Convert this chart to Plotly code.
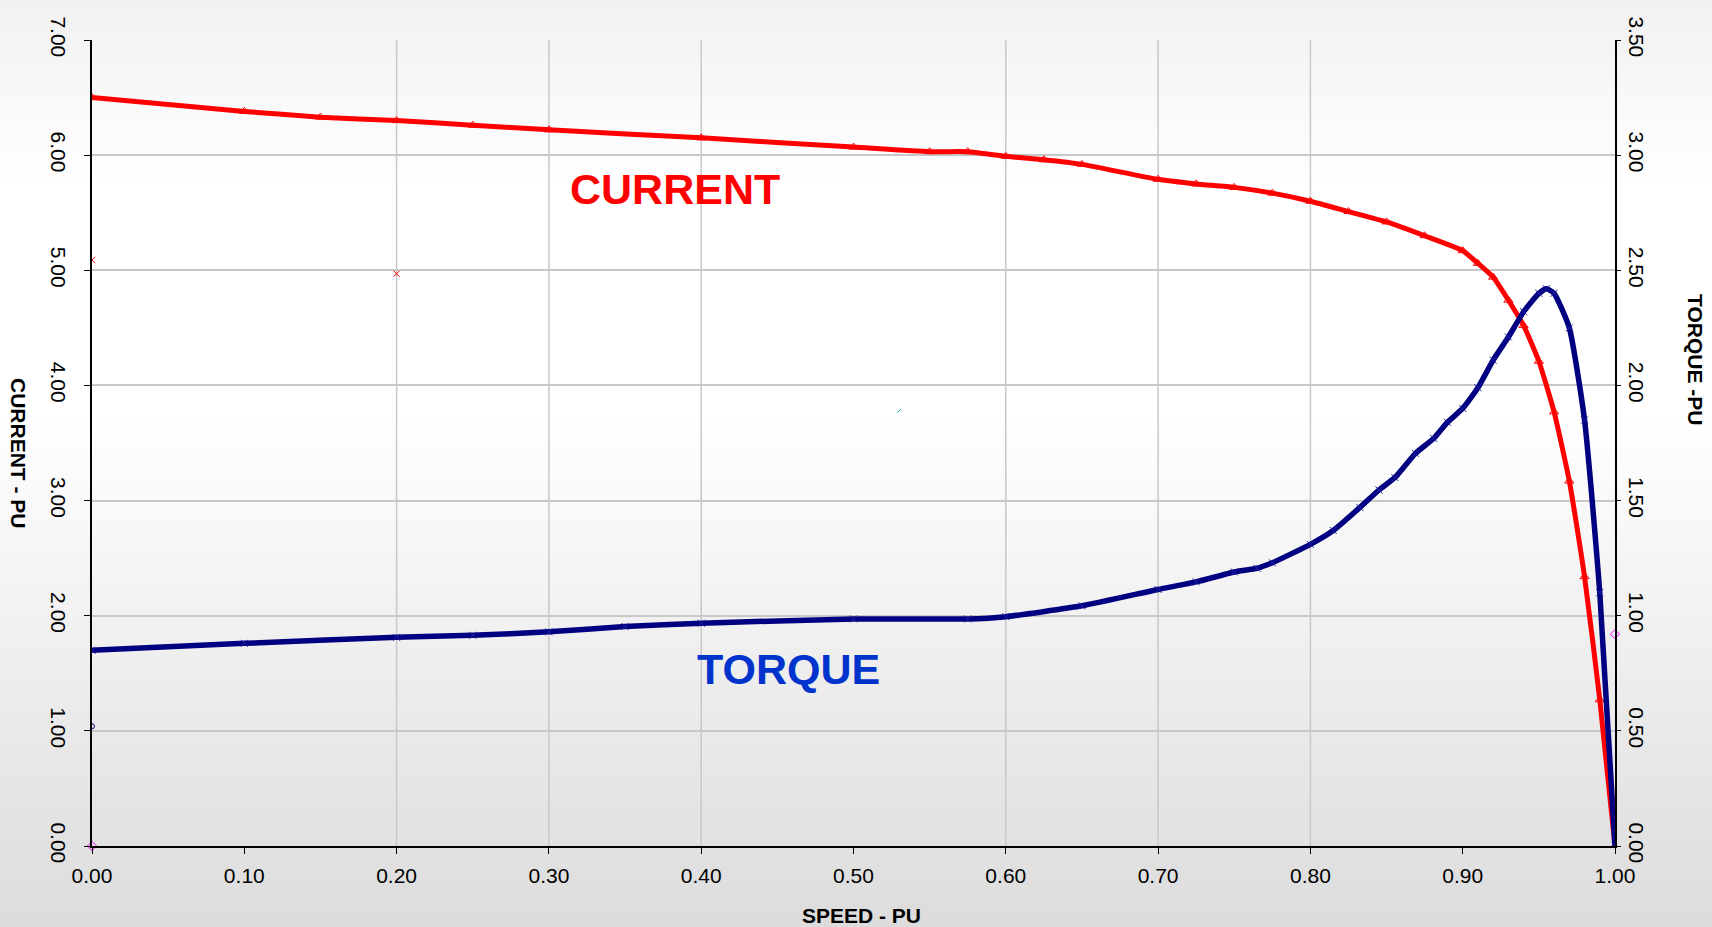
import base64
import plotly.graph_objects as go

# ---------------- data ----------------
speed_current = [0.00, 0.10, 0.15, 0.20, 0.25, 0.30, 0.40, 0.50, 0.55, 0.575, 0.60, 0.625, 0.65,
                 0.70, 0.725, 0.75, 0.775, 0.80, 0.825, 0.85, 0.875, 0.90, 0.91, 0.92, 0.93,
                 0.94, 0.95, 0.96, 0.97, 0.98, 0.99, 1.00]
current_pu = [6.50, 6.38, 6.33, 6.30, 6.26, 6.22, 6.15, 6.07, 6.03, 6.03, 5.99, 5.96, 5.92,
              5.79, 5.75, 5.72, 5.67, 5.60, 5.51, 5.42, 5.30, 5.17, 5.06, 4.94, 4.74,
              4.52, 4.21, 3.77, 3.17, 2.34, 1.27, 0.00]

speed_torque = [0.00, 0.10, 0.20, 0.25, 0.30, 0.35, 0.40, 0.50, 0.575, 0.60, 0.65, 0.70, 0.725,
                0.75, 0.765, 0.775, 0.80, 0.815, 0.8325, 0.845, 0.8555, 0.869, 0.881, 0.89,
                0.90, 0.91, 0.92, 0.93, 0.94, 0.95, 0.955, 0.96, 0.97, 0.98, 0.99, 1.00]
torque_pu = [0.85, 0.88, 0.906, 0.915, 0.93, 0.953, 0.967, 0.986, 0.986, 0.996, 1.043, 1.114, 1.147,
             1.19, 1.206, 1.23, 1.31, 1.37, 1.47, 1.546, 1.60, 1.705, 1.77, 1.84,
             1.90, 1.99, 2.11, 2.21, 2.32, 2.40, 2.42, 2.40, 2.25, 1.85, 1.10, 0.00]

# stray single points present in the source chart
stray_left_x = [0.00, 0.20]
stray_left_y = [5.09, 4.97]
stray_teal_x = [0.53]
stray_teal_y = [3.78]
stray_circle_x = [0.00]
stray_circle_y = [1.04]
stray_diamond_left_x = [0.00]
stray_diamond_left_y = [0.00]
stray_diamond_right_x = [1.00]
stray_diamond_right_y = [0.92]

x_ticks = [i / 10 for i in range(11)]
y1_ticks = [float(i) for i in range(8)]
y2_ticks = [i * 0.5 for i in range(8)]
x_grid = [0.2, 0.3, 0.4, 0.6, 0.7, 0.8]

# ---------------- layout constants ----------------
W, H = 1712, 927
ML, MR, MT, MB = 92, 97, 40, 81
PW, PH = W - ML - MR, H - MT - MB
FONT = "Liberation Sans, Arial, sans-serif"

def px_x(px):
    return (px - ML) / PW

def px_y(py):
    return 1 - (py - MT) / PH

svg = (
    "<svg xmlns='http://www.w3.org/2000/svg' width='1712' height='927' preserveAspectRatio='none'>"
    "<defs><linearGradient id='g' x1='0' y1='0' x2='0' y2='1'>"
    "<stop offset='0' stop-color='#f1f1f1'/>"
    "<stop offset='0.2' stop-color='#ffffff'/>"
    "<stop offset='0.45' stop-color='#ffffff'/>"
    "<stop offset='1' stop-color='#dcdcdc'/>"
    "</linearGradient></defs>"
    "<rect x='0' y='0' width='1712' height='927' fill='url(#g)'/></svg>"
)
svg_uri = "data:image/svg+xml;base64," + base64.b64encode(svg.encode()).decode()

fig = go.Figure()

fig.add_trace(go.Scatter(
    x=speed_current, y=current_pu, mode="lines+markers", name="CURRENT",
    line=dict(color="#ff0000", width=5, shape="spline", smoothing=0.5),
    marker=dict(symbol="triangle-up-open", size=8, color="#ff0000", line=dict(width=1)),
    yaxis="y", showlegend=False,
))
fig.add_trace(go.Scatter(
    x=speed_torque, y=torque_pu, mode="lines+markers", name="TORQUE",
    line=dict(color="#000080", width=5.5, shape="spline", smoothing=0.5),
    marker=dict(symbol="x-thin-open", size=7, color="#2020a0", line=dict(width=1, color="#2020a0")),
    yaxis="y2", showlegend=False,
))

# stray points
fig.add_trace(go.Scatter(x=stray_left_x, y=stray_left_y, mode="markers", yaxis="y", showlegend=False,
                         marker=dict(symbol="x-thin-open", size=6, color="#ff0000", line=dict(width=1, color="#ff0000"))))
fig.add_trace(go.Scatter(x=stray_teal_x, y=stray_teal_y, mode="markers", yaxis="y", showlegend=False,
                         marker=dict(symbol="line-ne-open", size=4, color="#20a0a0", line=dict(width=1, color="#20a0a0"))))
fig.add_trace(go.Scatter(x=stray_circle_x, y=stray_circle_y, mode="markers", yaxis="y", showlegend=False,
                         marker=dict(symbol="circle-open", size=5, color="#000080", line=dict(width=1, color="#000080"))))
fig.add_trace(go.Scatter(x=stray_diamond_left_x, y=stray_diamond_left_y, mode="markers", yaxis="y", showlegend=False,
                         marker=dict(symbol="diamond-open", size=7, color="#ff00ff", line=dict(width=1, color="#ff00ff")),
                         cliponaxis=False))
fig.add_trace(go.Scatter(x=stray_diamond_right_x, y=stray_diamond_right_y, mode="markers", yaxis="y2", showlegend=False,
                         marker=dict(symbol="diamond-open", size=7, color="#ff00ff", line=dict(width=1, color="#ff00ff")),
                         cliponaxis=False))

shapes = []
for gx in x_grid:
    shapes.append(dict(type="line", xref="x", yref="paper", x0=gx, x1=gx, y0=0, y1=1,
                       line=dict(color="#c8c8c8", width=1.5), layer="below"))

annotations = [
    dict(text="<b>CURRENT</b>", x=px_x(675), y=px_y(189), xref="paper", yref="paper",
         showarrow=False, font=dict(family=FONT, size=43, color="#ff0000"),
         xanchor="center", yanchor="middle"),
    dict(text="<b>TORQUE</b>", x=px_x(788), y=px_y(669), xref="paper", yref="paper",
         showarrow=False, font=dict(family=FONT, size=43, color="#0033cc"),
         xanchor="center", yanchor="middle"),
    dict(text="<b>CURRENT - PU</b>", x=px_x(19), y=px_y(453), xref="paper", yref="paper",
         showarrow=False, textangle=90, font=dict(family=FONT, size=21, color="#000000"),
         xanchor="center", yanchor="middle"),
    dict(text="<b>TORQUE -PU</b>", x=px_x(1696), y=px_y(360), xref="paper", yref="paper",
         showarrow=False, textangle=90, font=dict(family=FONT, size=21, color="#000000"),
         xanchor="center", yanchor="middle"),
    dict(text="<b>SPEED - PU</b>", x=px_x(861), y=px_y(915), xref="paper", yref="paper",
         showarrow=False, font=dict(family=FONT, size=21, color="#000000"),
         xanchor="center", yanchor="middle"),
]

fig.update_layout(
    width=W, height=H,
    margin=dict(l=ML, r=MR, t=MT, b=MB),
    paper_bgcolor="#f4f4f4",
    plot_bgcolor="rgba(0,0,0,0)",
    font=dict(family=FONT, size=21, color="#000000"),
    images=[dict(source=svg_uri, xref="paper", yref="paper",
                 x=-ML / PW, y=1 + MT / PH, sizex=W / PW, sizey=H / PH,
                 xanchor="left", yanchor="top", sizing="stretch", layer="below")],
    xaxis=dict(range=[0, 1], tickvals=x_ticks, ticktext=[f"{v:.2f}" for v in x_ticks],
               showgrid=False, zeroline=False, showline=True, linecolor="#000000", linewidth=1.5,
               ticks="outside", ticklen=6, tickcolor="#000000", tickfont=dict(size=21),
               ticklabelstandoff=4),
    yaxis=dict(range=[0, 7], tickvals=y1_ticks, ticktext=[f"{v:.2f}" for v in y1_ticks],
               tickangle=90, showgrid=True, gridcolor="#c8c8c8", gridwidth=1.5, zeroline=False,
               showline=True, linecolor="#000000", linewidth=1.5,
               ticks="outside", ticklen=6, tickcolor="#000000", tickfont=dict(size=21),
               ticklabelstandoff=8),
    yaxis2=dict(range=[0, 3.5], tickvals=y2_ticks, ticktext=[f"{v:.2f}" for v in y2_ticks],
                tickangle=90, overlaying="y", side="right", showgrid=False, zeroline=False,
                showline=True, linecolor="#000000", linewidth=1.5,
                ticks="outside", ticklen=4, tickcolor="#000000", tickfont=dict(size=21)),
    shapes=shapes,
    annotations=annotations,
    showlegend=False,
)

fig.write_html(
    "out.html",
    config={"displayModeBar": False},
    post_script="document.body.style.margin='0';document.body.style.overflow='hidden';",
)
